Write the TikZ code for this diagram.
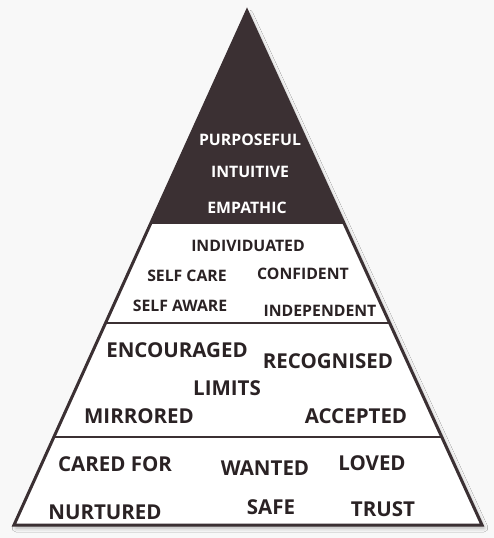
\documentclass[tikz,border=0pt]{standalone}
\usepackage{fontspec}
\setmainfont{Open Sans}
\usetikzlibrary{calc,shadows.blur}
\definecolor{pyrdark}{HTML}{3B3033}
\definecolor{pyrtext}{HTML}{2A2224}
\definecolor{pagebg}{HTML}{F8F8F8}

\begin{document}
\begin{tikzpicture}[x=1pt,y=-1pt,
    small/.style={font=\bfseries\fontsize{15.8}{17}\selectfont, text=pyrtext, inner sep=0pt},
    big/.style={font=\bfseries\fontsize{20.5}{23}\selectfont, text=pyrtext, inner sep=0pt},
    toptext/.style={small, text=white}]
  \fill[pagebg] (0,0) rectangle (494,538);
  \useasboundingbox (0,0) rectangle (494,538);

  \coordinate (apex) at (247,11);
  \coordinate (bl) at (14,525);
  \coordinate (br) at (482,525);
  \coordinate (l1) at ($(apex)!0.414!(bl)$);
  \coordinate (r1) at ($(apex)!0.414!(br)$);
  \coordinate (l2) at ($(apex)!0.607!(bl)$);
  \coordinate (r2) at ($(apex)!0.607!(br)$);
  \coordinate (l3) at ($(apex)!0.829!(bl)$);
  \coordinate (r3) at ($(apex)!0.829!(br)$);

  %pyramid
  \fill[white, blur shadow={shadow xshift=2pt, shadow yshift=-3pt, shadow blur radius=4pt, shadow opacity=30}] (apex) -- (bl) -- (br) -- cycle;
  \fill[pyrdark] (apex) -- (l1) -- (r1) -- cycle;
  \draw[pyrdark, line width=1.6pt] (l2) -- (r2);
  \draw[pyrdark, line width=1.6pt] (l3) -- (r3);
  \draw[pyrdark, line width=3pt] (apex) -- (bl) -- (br) -- cycle;

  %top
  \node[toptext] (purposeful) at (250,140) {PURPOSEFUL};
  \node[toptext] (intuitive) at (250,172) {INTUITIVE};
  \node[toptext] (empathic) at (247,208) {EMPATHIC};

  %second
  \node[small] (individuated) at (248,246) {INDIVIDUATED};
  \node[small] (selfcare) at (187,276) {SELF CARE};
  \node[small] (confident) at (303,274) {CONFIDENT};
  \node[small] (selfaware) at (180,306) {SELF AWARE};
  \node[small] (independent) at (320,311) {INDEPENDENT};

  %third
  \node[big] (encouraged) at (177,350) {ENCOURAGED};
  \node[big] (recognised) at (328,361) {RECOGNISED};
  \node[big] (limits) at (227,388) {LIMITS};
  \node[big] (mirrored) at (139,416) {MIRRORED};
  \node[big] (accepted) at (356,416) {ACCEPTED};

  %base
  \node[big] (caredfor) at (115,464) {CARED FOR};
  \node[big] (wanted) at (265,468) {WANTED};
  \node[big] (loved) at (372,463) {LOVED};
  \node[big] (nurtured) at (105,512) {NURTURED};
  \node[big] (safe) at (271,507) {SAFE};
  \node[big] (trust) at (383,509) {TRUST};
\end{tikzpicture}
\end{document}
